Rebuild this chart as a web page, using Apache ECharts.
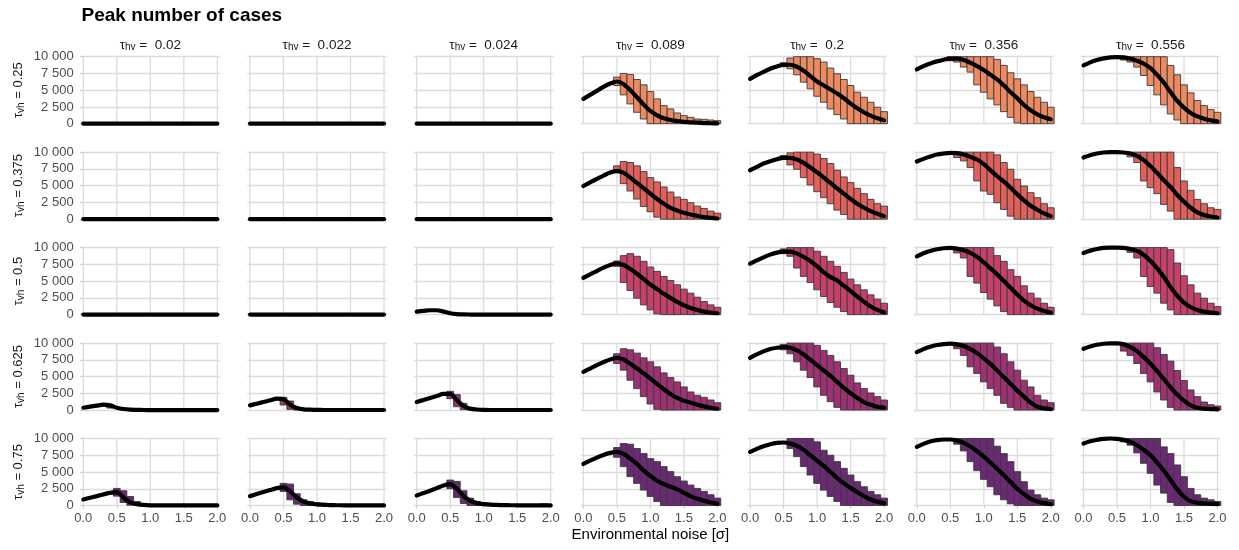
<!DOCTYPE html>
<html><head><meta charset="utf-8">
<script src="https://cdn.jsdelivr.net/npm/echarts@6/dist/echarts.min.js"></script>
<style>html,body{margin:0;padding:0;background:#fff}#chart{width:1239px;height:550px}</style>
</head><body><div id="chart"></div>
<script>
const n = null;
const xValues = [0,0.1,0.2,0.3,0.4,0.5,0.6,0.7,0.8,0.9,1.0,1.1,1.2,1.3,1.4,1.5,1.6,1.7,1.8,1.9,2.0];
const tauHV = ['0.02','0.022','0.024','0.089','0.2','0.356','0.556'];
const tauVH = ['0.25','0.375','0.5','0.625','0.75'];
const xTickValues = [0,0.5,1,1.5,2];
const yTickValues = [0,2500,5000,7500,10000];
const zeros = [0,0,0,0,0,0,0,0,0,0,0,0,0,0,0,0,0,0,0,0,0];
const none = [n,n,n,n,n,n,n,n,n,n,n,n,n,n,n,n,n,n,n,n,n];

// ---- row 1 : tau_vh = 0.25
const meanRow1 = [zeros, zeros, zeros,
  [3700,4300,4900,5500,6000,6300,5900,5000,3950,2850,1900,1250,800,550,400,280,200,150,100,70,50],
  [6700,7250,7750,8200,8550,8800,8800,8500,7900,7100,6300,5700,5100,4500,3800,3000,2300,1700,1200,800,500],
  [8100,8600,9000,9300,9550,9700,9700,9500,9100,8600,8000,7300,6600,5700,4700,3800,2800,2000,1400,950,650],
  [8700,9150,9500,9750,9900,9950,9900,9700,9400,8950,8300,7300,6100,4700,3400,2400,1600,1100,750,500,350]];
const lowRow1 = [none, none, none,
  [n,n,n,n,n,5700,4300,2950,1700,700,0,0,0,0,0,0,0,0,0,0,0],
  [n,n,n,n,n,8500,8200,7300,6200,5200,4100,3200,2200,1350,700,0,0,0,0,0,0],
  [n,n,n,n,n,9400,9200,8450,7700,5800,4700,3700,2800,1800,950,100,0,0,0,0,0],
  [n,n,n,n,n,n,9500,9200,8450,7200,5700,4300,2800,1450,550,0,0,0,0,0,0]];
const highRow1 = [none, none, none,
  [n,n,n,n,n,6950,7500,7350,6600,5800,4800,3700,2700,2200,1600,1200,950,700,650,550,450],
  [n,n,n,n,n,9100,9800,10000,10000,10000,9700,9200,8300,7450,6600,5700,4700,3950,3200,2450,1800],
  [n,n,n,n,n,10000,10000,10000,10000,10000,10000,10000,9600,8700,7600,6700,5800,4800,3950,3200,2450],
  [n,n,n,n,n,n,10000,10000,10000,10000,10000,10000,10000,8700,7300,5800,4600,3450,2700,2100,1700]];

// ---- row 2 : tau_vh = 0.375
const meanRow2 = [zeros, zeros, zeros,
  [4950,5500,6000,6500,6950,7200,6900,6200,5400,4600,3800,3000,2300,1700,1300,950,700,500,300,180,100],
  [7300,7800,8300,8650,8950,9150,9150,8900,8400,7700,7000,6200,5400,4600,3800,3000,2300,1700,1200,800,450],
  [8600,9000,9350,9650,9800,9900,9850,9650,9300,8900,8200,7300,6400,5600,4700,3700,2800,2000,1400,850,450],
  [9200,9550,9800,9950,10000,10000,9950,9800,9450,8800,7900,6900,5800,4800,3600,2600,1700,1000,600,400,250]];
const lowRow2 = [none, none, none,
  [n,n,n,n,n,6900,5300,4200,3000,1900,1100,300,0,0,0,0,0,0,0,0,0],
  [n,n,n,n,n,8900,8100,7450,6200,5100,4100,3200,2300,1350,700,0,0,0,0,0,0],
  [n,n,n,n,n,n,9200,8700,7700,5700,4200,3700,2450,1450,450,0,0,0,0,0,0],
  [n,n,n,n,n,n,n,9300,8450,5700,4700,3800,2200,1200,0,0,0,0,0,0,0]];
const highRow2 = [none, none, none,
  [n,n,n,n,n,7950,8600,8450,7950,7100,6200,5550,4800,4050,3300,2950,2450,1950,1600,1200,900],
  [n,n,n,n,n,9500,9900,10000,10000,10000,9700,9050,8300,7300,6300,5450,4600,3800,2950,2300,1950],
  [n,n,n,n,n,n,10000,10000,10000,10000,10000,10000,9600,8450,7450,5950,4950,3950,3200,2300,1700],
  [n,n,n,n,n,n,n,10000,10000,10000,10000,10000,10000,10000,7700,5700,4300,2950,2300,1700,1450]];

// ---- row 3 : tau_vh = 0.5
const meanRow3 = [zeros, zeros,
  [450,550,650,650,450,200,80,30,10,0,0,0,0,0,0,0,0,0,0,0,0],
  [5500,6000,6500,7000,7400,7650,7400,6800,6100,5300,4500,3800,3100,2500,1900,1400,1000,700,450,300,200],
  [7600,8100,8550,8950,9250,9400,9400,9100,8600,8000,7200,6300,5600,5100,4300,3500,2700,1900,1200,700,350],
  [8700,9150,9500,9750,9900,9950,9850,9600,9200,8600,7800,6900,6000,5000,4000,3000,2100,1400,900,550,300],
  [9200,9550,9800,9950,10000,10000,9950,9800,9500,8900,8000,6900,5600,4100,2800,1800,1100,700,450,300,200]];
const lowRow3 = [none, none, none,
  [n,n,n,n,n,7200,4800,3600,2450,1450,700,100,0,0,0,0,0,0,0,0,0],
  [n,n,n,n,n,9100,8700,6950,5700,4800,3700,2700,1800,1100,450,0,0,0,0,0,0],
  [n,n,n,n,n,n,9200,8450,5700,4700,3300,2300,1300,450,0,0,0,0,0,0,0],
  [n,n,n,n,n,n,n,9300,8450,5700,4200,3200,1700,700,0,0,0,0,0,0,0]];
const highRow3 = [none, none, none,
  [n,n,n,n,n,8000,8800,9100,8700,7950,7100,6450,5700,5100,4450,3800,3200,2600,1950,1450,1100],
  [n,n,n,n,n,9800,10000,10000,10000,10000,9450,8700,7950,7200,6300,5300,4450,3700,2950,2300,1700],
  [n,n,n,n,n,n,10000,10000,10000,10000,10000,10000,8800,7950,6700,5700,4300,3200,2450,1700,1100],
  [n,n,n,n,n,n,n,10000,10000,10000,10000,10000,10000,9700,7700,5800,4450,3200,2450,1700,1200]];

// ---- row 4 : tau_vh = 0.625
const meanRow4 = [
  [350,500,650,800,700,350,150,60,30,10,0,0,0,0,0,0,0,0,0,0,0],
  [700,950,1200,1450,1700,1600,800,300,100,50,20,10,10,10,10,10,10,10,10,10,10],
  [1200,1500,1800,2100,2400,2400,1500,600,200,80,30,10,10,10,10,10,10,10,10,10,10],
  [5700,6200,6700,7150,7550,7800,7550,6900,6200,5500,4700,3900,3100,2400,1800,1400,1100,800,550,350,200],
  [7800,8300,8750,9100,9300,9400,9300,8900,8300,7500,6700,5900,5100,4200,3300,2500,1800,1200,800,500,350],
  [8650,9100,9450,9700,9850,9900,9800,9550,9100,8500,7700,6900,5900,4900,3900,2900,2000,1100,500,250,150],
  [9150,9500,9750,9900,9950,9950,9800,9400,8800,7900,6900,5800,4600,3400,2300,1400,700,350,200,150,100]];
const lowRow4 = [
  [n,n,n,n,300,n,n,n,n,n,n,n,n,n,n,n,n,n,n,n,n],
  [n,n,n,n,n,750,100,0,n,n,n,n,n,n,n,n,n,n,n,n,n],
  [n,n,n,n,n,1700,500,50,0,n,n,n,n,n,n,n,n,n,n,n,n],
  [n,n,n,n,n,6950,5950,4450,3200,2000,900,100,0,0,0,0,0,0,0,0,0],
  [n,n,n,n,n,9000,8400,7200,5950,4850,3450,2200,1250,400,0,0,0,0,0,0,0],
  [n,n,n,n,n,n,9150,8150,6450,5450,4200,3200,2200,1000,400,0,0,0,0,0,0],
  [n,n,n,n,n,n,8800,8150,6950,5450,4200,2700,1500,400,0,0,0,0,0,0,0]];
const highRow4 = [
  [n,n,n,n,850,n,n,n,n,n,n,n,n,n,n,n,n,n,n,n,n],
  [n,n,n,n,n,1900,1350,400,n,n,n,n,n,n,n,n,n,n,n,n,n],
  [n,n,n,n,n,2800,2300,1000,400,n,n,n,n,n,n,n,n,n,n,n,n],
  [n,n,n,n,n,8400,9150,9000,8500,7800,7200,6450,5550,4850,4200,3450,2700,2200,1900,1500,1100],
  [n,n,n,n,n,9800,10000,10000,10000,10000,9650,8900,8150,7200,6200,5200,4050,3200,2550,2000,1500],
  [n,n,n,n,n,n,10000,10000,10000,10000,10000,10000,9400,8400,7200,5950,4450,3450,2200,1500,1100],
  [n,n,n,n,n,n,10000,10000,10000,10000,10000,9300,8300,7300,5900,4400,3000,2000,1200,800,600]];

// ---- row 5 : tau_vh = 0.75
const meanRow5 = [
  [900,1150,1400,1650,1900,2000,1200,450,200,80,30,10,10,10,10,10,10,10,10,10,10],
  [1400,1700,2000,2300,2600,2700,2100,1200,600,300,150,100,60,40,30,20,15,10,10,10,10],
  [1500,1850,2200,2600,3000,3200,2500,1400,700,350,200,120,80,60,40,30,20,20,20,20,10],
  [6200,6700,7150,7550,7850,8000,7700,7000,6200,5200,4400,3700,3200,2800,2400,1900,1400,1000,700,450,250],
  [8000,8450,8850,9150,9350,9400,9250,8900,8300,7500,6700,5900,5000,4100,3300,2600,2000,1400,900,550,350],
  [8750,9200,9550,9750,9850,9850,9700,9350,8800,8100,7300,6400,5500,4500,3500,2500,1700,1000,600,350,200],
  [9250,9600,9800,9950,10000,9950,9800,9500,9000,8300,7500,6400,5200,3800,2400,1300,650,400,300,250,200]];
const lowRow5 = [
  [n,n,n,n,1700,1400,450,50,0,0,n,n,n,n,n,n,n,n,n,n,n],
  [n,n,n,n,n,2100,850,200,0,0,0,0,0,n,n,n,n,n,n,n,n],
  [n,n,n,n,n,2500,1200,300,0,0,0,0,0,0,n,n,n,n,0,0,n],
  [n,n,n,n,n,7200,5800,4300,3300,2300,1350,600,0,0,0,0,0,0,0,0,0],
  [n,n,n,n,n,n,8500,7300,5800,4550,3300,2300,1350,600,0,0,0,0,0,0,0],
  [n,n,n,n,n,n,9150,8150,6550,5200,3900,2800,1600,850,250,0,0,0,0,0,0],
  [n,n,n,n,n,n,9500,9000,7850,6300,4800,3050,1850,450,0,0,0,0,0,0,0]];
const highRow5 = [
  [n,n,n,n,2100,2550,2200,1350,600,250,n,n,n,n,n,n,n,n,n,n,n],
  [n,n,n,n,n,3300,3200,1750,850,600,450,350,250,n,n,n,n,n,n,n,n],
  [n,n,n,n,n,3800,3600,2200,1100,600,400,300,200,150,n,n,n,n,150,250,n],
  [n,n,n,n,n,8650,9250,9150,8500,7750,7000,6550,5800,5050,4300,3650,3050,2550,2100,1600,1100],
  [n,n,n,n,n,n,10000,10000,10000,10000,9500,8250,7500,6550,5550,4550,3550,2800,2100,1600,1100],
  [n,n,n,n,n,n,10000,10000,10000,10000,10000,10000,8850,7750,6550,5050,3550,2300,1600,1100,850],
  [n,n,n,n,n,n,10000,10000,10000,10000,10000,10000,8750,7750,6050,4300,2550,1600,1100,850,600]];

// ---------------- styling / layout (not data)
const rowColors = ['#EE8A62','#E0605C','#C5416A','#9D3172','#6B2874'];
const FONT = '"Liberation Sans", Arial, Helvetica, sans-serif';
const GRID_COLOR = '#DCDCDC';
const COL0 = 83.3, COLSTEP = 166.7, UNIT = 67, ROW0 = 56.7, ROWSTEP = 95.45, PH = 67, XPAD = 0.04;
const BAR_HALF = 0.05;

const meanRows = [meanRow1, meanRow2, meanRow3, meanRow4, meanRow5];
const lowRows = [lowRow1, lowRow2, lowRow3, lowRow4, lowRow5];
const highRows = [highRow1, highRow2, highRow3, highRow4, highRow5];

function fmtThousands(v) {
  return String(v).replace(/\B(?=(\d{3})+(?!\d))/g, ' ');
}

const grids = [], xAxes = [], yAxes = [], series = [], graphics = [];
const nR = tauVH.length, nC = tauHV.length;
for (let r = 0; r < nR; r++) {
  for (let c = 0; c < nC; c++) {
    const idx = r * nC + c;
    grids.push({
      left: COL0 + c * COLSTEP - XPAD * UNIT,
      top: ROW0 + r * ROWSTEP,
      width: (2 + 2 * XPAD) * UNIT,
      height: PH
    });
    const bottom = (r === nR - 1), first = (c === 0);
    xAxes.push({
      type: 'value', gridIndex: idx, min: -XPAD, max: 2 + XPAD,
      splitLine: { show: false }, axisLine: { show: false },
      axisTick: { show: bottom, customValues: xTickValues, length: 3, lineStyle: { color: '#C8C8C8', width: 1 } },
      axisLabel: { show: bottom, customValues: xTickValues, margin: 6, fontSize: 13, color: '#4D4D4D', fontFamily: FONT,
        formatter: v => Number(v).toFixed(1) }
    });
    yAxes.push({
      type: 'value', gridIndex: idx, min: yTickValues[0], max: yTickValues[yTickValues.length - 1],
      interval: yTickValues[1] - yTickValues[0],
      splitLine: { show: true, lineStyle: { color: GRID_COLOR, width: 1.3 } },
      axisLine: { show: false },
      axisTick: { show: first, length: 3, lineStyle: { color: '#C8C8C8', width: 1 } },
      axisLabel: { show: first, margin: 7, fontSize: 13, color: '#4D4D4D', fontFamily: FONT,
        formatter: v => fmtThousands(v) }
    });
    // vertical grid lines at x ticks
    series.push({
      type: 'custom', xAxisIndex: idx, yAxisIndex: idx, silent: true, z: 1,
      data: xTickValues.map(v => [v, yTickValues[0]]),
      renderItem: (params, api) => {
        const x = api.value(0);
        const a = api.coord([x, yTickValues[0]]);
        const b = api.coord([x, yTickValues[yTickValues.length - 1]]);
        return { type: 'line', shape: { x1: a[0], y1: a[1], x2: b[0], y2: b[1] },
          style: { stroke: GRID_COLOR, lineWidth: 1.3 } };
      }
    });
    // range bars
    const lo = lowRows[r][c], hi = highRows[r][c];
    const barData = [];
    xValues.forEach((x, i) => { if (lo[i] !== null && hi[i] !== null) barData.push([x, lo[i], hi[i]]); });
    const fill = rowColors[r];
    series.push({
      type: 'custom', xAxisIndex: idx, yAxisIndex: idx, silent: true, z: 2, clip: false,
      data: barData,
      renderItem: (params, api) => {
        const x = api.value(0), l = api.value(1), h = api.value(2);
        const p1 = api.coord([x - BAR_HALF, h]);
        const p2 = api.coord([x + BAR_HALF, l]);
        return { type: 'rect', shape: { x: p1[0], y: p1[1], width: p2[0] - p1[0], height: p2[1] - p1[1] },
          style: { fill: fill, stroke: '#3A3A3A', lineWidth: 0.9 } };
      }
    });
    // mean line
    const m = meanRows[r][c];
    series.push({
      type: 'line', xAxisIndex: idx, yAxisIndex: idx, silent: true, z: 3, clip: false,
      data: xValues.map((x, i) => [x, m[i]]),
      showSymbol: false, smooth: 0.3,
      lineStyle: { color: '#000', width: 4.2, cap: 'round', join: 'round' }
    });
  }
}

// column strip labels
tauHV.forEach((t, c) => {
  graphics.push({
    type: 'text', x: COL0 + c * COLSTEP + UNIT, y: 45,
    style: {
      text: '{t|τ}{s|hv}{t| =  ' + t + '}',
      align: 'center', verticalAlign: 'middle', textAlign: 'center', textVerticalAlign: 'middle',
      rich: {
        t: { fontSize: 13.5, fontFamily: FONT, fill: '#1A1A1A' },
        s: { fontSize: 10, fontFamily: FONT, fill: '#1A1A1A', padding: [5, 0, 0, 0] }
      }
    }
  });
});
// row strip labels (rotated)
tauVH.forEach((t, r) => {
  graphics.push({
    type: 'text', x: 18.5, y: ROW0 + r * ROWSTEP + PH / 2, rotation: Math.PI / 2,
    style: {
      text: '{t|τ}{s|vh}{t| = ' + t + '}',
      align: 'center', verticalAlign: 'middle', textAlign: 'center', textVerticalAlign: 'middle',
      rich: {
        t: { fontSize: 13, fontFamily: FONT, fill: '#1A1A1A' },
        s: { fontSize: 10, fontFamily: FONT, fill: '#1A1A1A', padding: [5, 0, 0, 0] }
      }
    }
  });
});
// title
graphics.push({ type: 'text', x: 81.5, y: 16, style: { text: 'Peak number of cases', font: 'bold 19px ' + FONT, fill: '#000',
  align: 'left', verticalAlign: 'middle', textAlign: 'left', textVerticalAlign: 'middle' } });
// x axis title
graphics.push({ type: 'text', x: COL0 + (nC - 1) * COLSTEP / 2 + UNIT, y: 535, style: { text: 'Environmental noise [σ]', font: '15px ' + FONT, fill: '#000',
  align: 'center', verticalAlign: 'middle', textAlign: 'center', textVerticalAlign: 'middle' } });

const chart = echarts.init(document.getElementById('chart'), null, { renderer: 'canvas' });
chart.setOption({
  animation: false,
  backgroundColor: '#fff',
  textStyle: { fontFamily: FONT },
  grid: grids, xAxis: xAxes, yAxis: yAxes, series: series, graphic: graphics
});
</script>
</body></html>
